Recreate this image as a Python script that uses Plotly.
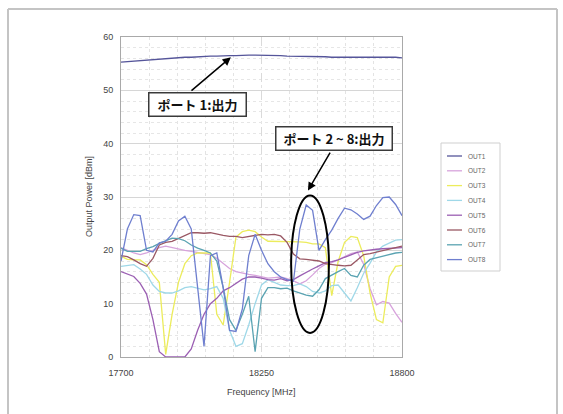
import plotly.graph_objects as go

# ---------------- data ----------------
FREQ = list(range(17700, 18801, 25))  # MHz, 45 points
X_TICKS = [17700, 18250, 18800]
X_TICK_TEXT = ["17700", "18250", "18800"]

NAMES = ["OUT1", "OUT2", "OUT3", "OUT4", "OUT5", "OUT6", "OUT7", "OUT8"]
COLORS = ["#55559a", "#d7a3dc", "#ecec5c", "#9fd8e8",
          "#9b5fb3", "#9a5864", "#5aa3b2", "#6f7fcf"]

OUT1 = [55.3, 55.4, 55.5, 55.6, 55.7, 55.8, 55.9, 56.0, 56.1, 56.1,
        56.2, 56.2, 56.3, 56.3, 56.4, 56.4, 56.5, 56.5, 56.5, 56.6,
        56.6, 56.6, 56.6, 56.5, 56.5, 56.5, 56.4, 56.4, 56.3, 56.3,
        56.3, 56.3, 56.3, 56.2, 56.2, 56.3, 56.3, 56.2, 56.2, 56.2,
        56.2, 56.3, 56.2, 56.2, 56.1]
OUT2 = [20.5, 20, 19.5, 19.2, 19.5, 20, 20.5, 20.8, 20.5, 20.2,
        20, 19.8, 19.6, 19.4, 19.2, 18.5, 17.5, 16.6, 16, 15.7,
        15.5, 15.3, 15.1, 14.8, 14.9, 15.0, 14.7, 14.3, 13.7, 14.3,
        15.4, 16.6, 17.4, 17.7, 18.2, 18.8, 19.4, 19.7, 17.4, 12.8,
        9.8, 10.4, 10.1, 8.2, 6.5]
OUT3 = [18.9, 18.3, 18.2, 18.2, 17.3, 15.5, 14, 0.5, 8, 14,
        17.5, 19, 19.5, 19.5, 19.5, 8, 6, 14, 22.5, 23.5,
        23.8, 23.5, 22.5, 21.7, 21.7, 21.7, 21.7, 21.7, 21.6, 21.5,
        21.2, 21.2, 20.5, 11.5, 17.9, 21.5, 22.6, 22.4, 19, 12,
        7, 6.4, 15, 17, 17.2]
OUT4 = [17, 17.2, 17.3, 16.5, 15.5, 13.5, 12.3, 12, 12, 12.4,
        13, 13.2, 12.9, 12.6, 12.8, 13.2, 11, 5, 2, 2.5,
        6, 10, 13.5, 14.5, 14, 13.5, 13.4, 13.4, 13.7, 13.2,
        12.3, 12, 12.4, 13.4, 13.5, 11.9, 10.5, 13, 15.7, 17.6,
        19.7, 20.8, 21.4, 21.9, 22]
OUT5 = [16, 15.5, 15.1, 13.8, 11.8, 7, 1, 0, 0, 0,
        0, 1.5, 5, 8, 10, 11, 12.4, 13, 13.8, 14.6,
        15, 15, 14.8, 14.5, 14.4, 14.7, 14.3, 14.5, 15.2, 15.9,
        16.5, 17.1, 17.7, 17.9, 18.2, 18.7, 19.2, 19.6, 19.9, 20.1,
        20.2, 20.3, 20.4, 20.4, 20.5]
OUT6 = [19, 18.8, 18.2, 17.5, 17, 18.5, 21, 21.5, 21.7, 22.2,
        22.8, 23.3, 23.3, 23.2, 23.3, 23, 22.8, 22.6, 22.6, 22.4,
        22.6, 22.8, 23, 22.9, 23, 22.7, 21.5, 19.3, 18.4, 18.3,
        18.2, 18, 17.5, 17.3, 17.2, 17.1, 17.2, 18.2, 19.2, 19.4,
        19.7, 19.9, 20.2, 20.6, 20.8]
OUT7 = [20.4, 19.8, 19.8, 19.8, 20.3, 20.7, 21.3, 21.8, 22.3, 22.2,
        21.8, 21, 20.4, 20, 19.5, 18, 13, 7, 5, 8,
        11.4, 1, 11, 13, 13, 12.8, 12.9, 12.4, 12, 11.6,
        11.4, 12.6, 14.7, 15.4, 16, 16.6, 15.3, 15, 17.2, 18.3,
        18.6, 18.9, 19.2, 19.5, 19.6]
OUT8 = [18, 24, 26.7, 26.5, 20, 19.7, 21.4, 21.7, 23, 25.5,
        26.4, 24, 13, 2, 19, 19.5, 13, 5, 4.8, 9,
        19, 23, 20, 17.5, 16, 15, 14.5, 14.2, 24, 28.5,
        27.5, 20, 22, 23.8, 26, 27.9, 27.6, 26.8, 25.8, 26.4,
        28.4, 29.9, 30, 28.6, 26.5]
SERIES = [OUT1, OUT2, OUT3, OUT4, OUT5, OUT6, OUT7, OUT8]

X_TITLE = "Frequency [MHz]"
Y_TITLE = "Output Power [dBm]"
LABEL_PORT1 = "ポート 1:出力"
LABEL_PORT2 = "ポート 2 ~ 8:出力"

# ---------------- layout helpers ----------------
W, H = 563, 414
L, R, T, B = 121, 402, 37, 357          # plot area in pixels


def px(p):
    return (p - L) / (R - L)


def py(p):
    return (B - p) / (B - T)


AXFONT = dict(family="Liberation Sans, Arial, sans-serif", size=9, color="#444444")
JPFONT = dict(family="Noto Sans CJK JP, sans-serif", size=13, color="#111111")

fig = go.Figure()
for name, color, vals in zip(NAMES, COLORS, SERIES):
    fig.add_trace(go.Scatter(x=FREQ, y=vals, mode="lines", name=name,
                             line=dict(color=color, width=1.3),
                             showlegend=False, hoverinfo="skip"))

fig.update_layout(
    width=W, height=H,
    margin=dict(l=L, r=W - R, t=T, b=H - B),
    paper_bgcolor="white", plot_bgcolor="white",
    showlegend=False,
)
fig.update_xaxes(
    range=[17700, 18800], tickmode="array", tickvals=X_TICKS, ticktext=X_TICK_TEXT,
    showgrid=True, gridcolor="#dadada", gridwidth=1, griddash="dash",
    minor=dict(tick0=17700, dtick=110, showgrid=True, gridcolor="#e3e3e3",
               griddash="dot", gridwidth=1),
    showline=True, mirror=True, linecolor="#a9a9a9", linewidth=1,
    ticks="", tickfont=AXFONT, zeroline=False, ticklabelstandoff=7,
)
fig.update_yaxes(
    range=[0, 60], tickmode="linear", tick0=0, dtick=10,
    showgrid=True, gridcolor="#d6d6d6", gridwidth=1,
    minor=dict(dtick=2, showgrid=True, gridcolor="#e6e6e6",
               griddash="dot", gridwidth=1),
    showline=True, mirror=True, linecolor="#a9a9a9", linewidth=1,
    ticks="", tickfont=AXFONT, zeroline=False, ticklabelstandoff=5,
)

shapes = []
annotations = []

# outer slide frame
frame = dict(type="line", xref="paper", yref="paper",
             line=dict(color="#c4c4c4", width=2))
shapes.append(dict(frame, x0=px(8), x1=px(8), y0=py(9), y1=py(416)))
shapes.append(dict(frame, x0=px(8), x1=px(557), y0=py(9), y1=py(9)))
shapes.append(dict(frame, x0=px(557), x1=px(557), y0=py(9), y1=py(416)))

# axis titles
annotations.append(dict(text=X_TITLE, xref="paper", yref="paper",
                        x=px(261), y=py(392), showarrow=False, font=AXFONT,
                        xanchor="center", yanchor="middle"))
annotations.append(dict(text=Y_TITLE, xref="paper", yref="paper",
                        x=px(89), y=py(197), showarrow=False, font=AXFONT,
                        textangle=-90, xanchor="center", yanchor="middle"))

# legend box (drawn manually to match the compact Excel legend)
shapes.append(dict(type="rect", xref="paper", yref="paper",
                   x0=px(441), x1=px(500), y0=py(271), y1=py(143),
                   line=dict(color="#cfcfcf", width=1), fillcolor="white"))
for i, (name, color) in enumerate(zip(NAMES, COLORS)):
    yy = 156 + 14.8 * i
    shapes.append(dict(type="line", xref="paper", yref="paper",
                       x0=px(447), x1=px(462), y0=py(yy), y1=py(yy),
                       line=dict(color=color, width=1.3)))
    annotations.append(dict(text=name, xref="paper", yref="paper",
                            x=px(466), y=py(yy), showarrow=False,
                            xanchor="left", yanchor="middle",
                            font=dict(family="Liberation Sans, Arial", size=6.5,
                                      color="#666666")))

# ellipse around ports 2-8 highlight
shapes.append(dict(type="circle", xref="x", yref="y",
                   x0=18366, x1=18514, y0=4.5, y1=30.3,
                   line=dict(color="black", width=2)))

# callout boxes
box = dict(showarrow=False, xref="x", yref="y", font=JPFONT,
           bgcolor="white", bordercolor="#3a3a3a", borderwidth=1.5,
           borderpad=2, xanchor="center", yanchor="middle")
annotations.append(dict(box, text="<b>" + LABEL_PORT1 + "</b>",
                        x=17999, y=47.3, width=92, height=18))
annotations.append(dict(box, text="<b>" + LABEL_PORT2 + "</b>",
                        x=18534, y=41.0, width=111, height=18))

# arrows
arrow = dict(text="", showarrow=True, xref="x", yref="y", axref="x", ayref="y",
             arrowhead=2, arrowsize=1.1, arrowwidth=1.5, arrowcolor="black")
annotations.append(dict(arrow, x=18130, y=56.2, ax=17970, ay=49.7))
annotations.append(dict(arrow, x=18432, y=31.2, ax=18522, ay=38.6))

fig.update_layout(shapes=shapes, annotations=annotations)
fig.write_html("out.html")
